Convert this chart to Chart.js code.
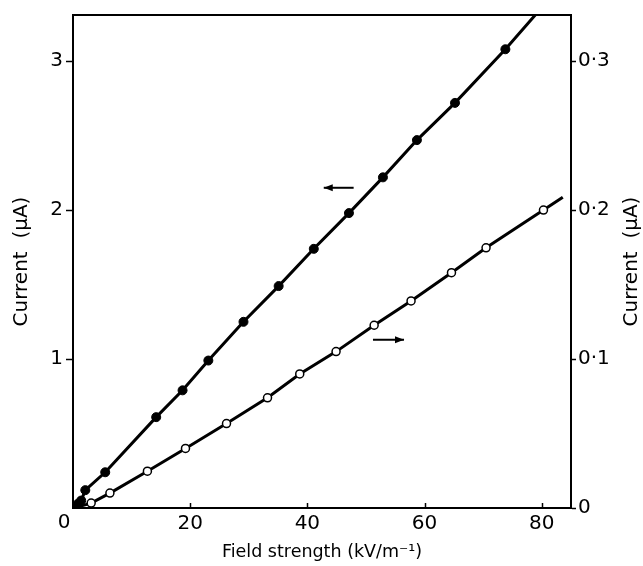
<!DOCTYPE html>
<html>
<head>
<meta charset="utf-8">
<script src="https://cdn.jsdelivr.net/npm/chart.js@4.4.1/dist/chart.umd.min.js"></script>
<style>
    html, body { margin: 0; padding: 0; background: #fff; }
    #wrap { width: 643px; height: 566px; }
</style>
</head>
<body>
<div id="wrap"><canvas id="chart" width="643" height="566"></canvas></div>
<script>
// filled circles, left axis (µA); first three form the cluster at the origin, last entry is where the line leaves the frame
const fieldFilled = [0.4, 0.9, 1.4, 2.1, 5.5, 14.2, 18.7, 23.1, 29.1, 35.1, 41.1, 47.1, 52.9, 58.7, 65.2, 73.8, 78.9];
const currentFilled = [0.01, 0.03, 0.05, 0.12, 0.24, 0.61, 0.79, 0.99, 1.25, 1.49, 1.74, 1.98, 2.22, 2.47, 2.72, 3.08, 3.31];

// open circles, right axis (µA); first and last entries are line ends only
const fieldOpen = [0.6, 3.1, 6.3, 12.7, 19.2, 26.2, 33.2, 38.7, 44.9, 51.4, 57.7, 64.6, 70.5, 80.3, 83.6];
const currentOpen = [0.0005, 0.0033, 0.010, 0.0247, 0.040, 0.0567, 0.074, 0.090, 0.105, 0.1227, 0.139, 0.158, 0.1747, 0.200, 0.2087];

const xTicks = [20, 40, 60, 80];
const leftTicks = [1, 2, 3];
const rightTicks = [0, 0.1, 0.2, 0.3];

// arrows: [x start, x end, y on left axis]
const arrowLeft = [42.8, 47.9, 2.15];
const arrowRight = [51.2, 56.5, 1.13];

const FONT = 'DejaVu Sans';
const INK = '#000';
const Y_TITLE = 'Current  (µA)';

function toPoints(xs, ys) {
    return xs.map((x, i) => ({ x, y: ys[i] }));
}

function drawArrow(ctx, x1, x2, y, pointLeft) {
    const tip = pointLeft ? x1 : x2;
    const dir = pointLeft ? 1 : -1;
    ctx.beginPath();
    ctx.moveTo(x1, y);
    ctx.lineTo(x2, y);
    ctx.stroke();
    ctx.beginPath();
    ctx.moveTo(tip, y);
    ctx.lineTo(tip + dir * 9, y - 3.5);
    ctx.lineTo(tip + dir * 9, y + 3.5);
    ctx.closePath();
    ctx.fill();
}

const extras = {
    id: 'extras',
    afterDraw(chart) {
        const { ctx, scales } = chart;
        const x = scales.x;
        const y = scales.y;
        const bottom = chart.chartArea.bottom;

        ctx.save();
        ctx.strokeStyle = INK;
        ctx.fillStyle = INK;

        // inward ticks on the bottom axis
        ctx.lineWidth = 1.5;
        xTicks.forEach((v) => {
            const px = Math.round(x.getPixelForValue(v)) + 0.5;
            ctx.beginPath();
            ctx.moveTo(px, bottom);
            ctx.lineTo(px, bottom - 5);
            ctx.stroke();
        });

        // shared origin label
        ctx.font = `20px ${FONT}`;
        ctx.textAlign = 'center';
        ctx.textBaseline = 'middle';
        ctx.fillText('0', x.getPixelForValue(0) - 9, bottom + 15);

        // right axis title, reading upwards like the left one
        ctx.font = `20px ${FONT}`;
        ctx.translate(632, (chart.chartArea.top + bottom) / 2);
        ctx.rotate(-Math.PI / 2);
        ctx.fillText(Y_TITLE, 0, 0);
        ctx.setTransform(1, 0, 0, 1, 0, 0);

        // arrows telling which axis each curve belongs to
        ctx.lineWidth = 2;
        drawArrow(ctx, x.getPixelForValue(arrowLeft[0]), x.getPixelForValue(arrowLeft[1]), y.getPixelForValue(arrowLeft[2]), true);
        drawArrow(ctx, x.getPixelForValue(arrowRight[0]), x.getPixelForValue(arrowRight[1]), y.getPixelForValue(arrowRight[2]), false);
        ctx.restore();
    },
};

const lastFilled = fieldFilled.length - 1;
const lastOpen = fieldOpen.length - 1;

new Chart(document.getElementById('chart'), {
    type: 'line',
    data: {
        datasets: [
            {
                data: toPoints(fieldFilled, currentFilled),
                yAxisID: 'y',
                borderColor: INK,
                borderWidth: 3,
                backgroundColor: INK,
                pointBackgroundColor: INK,
                pointBorderColor: INK,
                pointBorderWidth: 1,
                pointRadius: (c) => (c.dataIndex === lastFilled ? 0 : 4.5),
                tension: 0,
            },
            {
                data: toPoints(fieldOpen, currentOpen),
                yAxisID: 'y2',
                borderColor: INK,
                borderWidth: 3,
                pointBackgroundColor: '#fff',
                pointBorderColor: INK,
                pointBorderWidth: 1.5,
                pointRadius: (c) => (c.dataIndex === 0 || c.dataIndex === lastOpen ? 0 : 4),
                tension: 0,
            },
        ],
    },
    options: {
        responsive: false,
        animation: false,
        layout: {
            padding: { top: 14, left: 0, right: 0, bottom: 0 },
        },
        plugins: {
            legend: { display: false },
            tooltip: { enabled: false },
        },
        scales: {
            x: {
                type: 'linear',
                min: 0,
                max: 85,
                afterBuildTicks(scale) {
                    scale.ticks = xTicks.map((v) => ({ value: v }));
                },
                afterFit(scale) {
                    scale.height = 58;
                },
                grid: { display: false, drawTicks: false },
                border: { display: true, color: INK, width: 2 },
                ticks: {
                    color: INK,
                    padding: 4,
                    maxRotation: 0,
                    font: { family: FONT, size: 20 },
                },
                title: {
                    display: true,
                    text: 'Field strength (kV/m⁻¹)',
                    color: INK,
                    font: { family: FONT, size: 17.5 },
                    padding: { top: 0, bottom: 3 },
                },
            },
            xTop: {
                type: 'linear',
                position: 'top',
                min: 0,
                max: 85,
                afterFit(scale) {
                    scale.height = 0;
                },
                grid: { display: false, drawTicks: false },
                border: { display: true, color: INK, width: 2 },
                ticks: { display: false },
            },
            y: {
                type: 'linear',
                position: 'left',
                min: 0,
                max: 3.31,
                afterBuildTicks(scale) {
                    scale.ticks = leftTicks.map((v) => ({ value: v }));
                },
                afterFit(scale) {
                    scale.width = 73;
                },
                grid: { drawOnChartArea: false, tickLength: 7, color: INK, tickWidth: 1.5 },
                border: { display: true, color: INK, width: 2 },
                ticks: {
                    color: INK,
                    padding: 3,
                    font: { family: FONT, size: 20 },
                },
                title: {
                    display: true,
                    text: Y_TITLE,
                    color: INK,
                    font: { family: FONT, size: 20 },
                    padding: { top: 10, bottom: 0 },
                },
            },
            y2: {
                type: 'linear',
                position: 'right',
                min: 0,
                max: 0.331,
                afterBuildTicks(scale) {
                    scale.ticks = rightTicks.map((v) => ({ value: v }));
                },
                afterFit(scale) {
                    scale.width = 72;
                },
                grid: { drawOnChartArea: false, tickLength: 5, color: INK, tickWidth: 1.5 },
                border: { display: true, color: INK, width: 2 },
                ticks: {
                    color: INK,
                    padding: 2,
                    font: { family: FONT, size: 20 },
                    callback: (v) => (v === 0 ? '0' : v.toFixed(1).replace('.', '·')),
                },
            },
        },
    },
    plugins: [extras],
});
</script>
</body>
</html>
